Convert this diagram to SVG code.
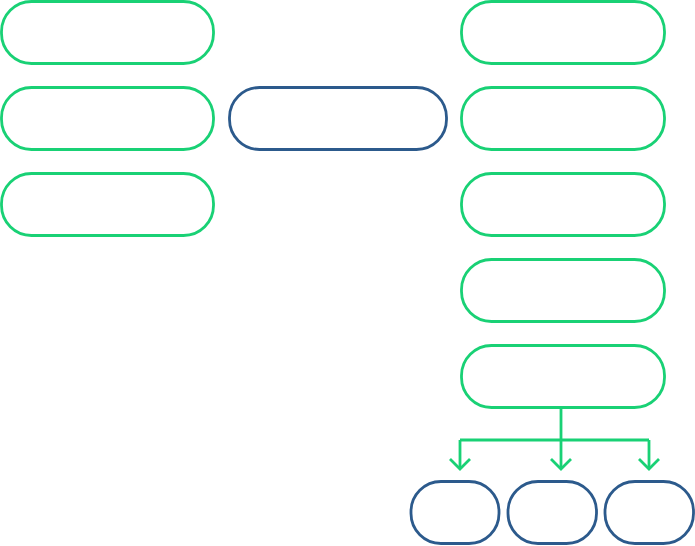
<svg xmlns="http://www.w3.org/2000/svg" width="695" height="546" viewBox="0 0 695 546">
<style>
.g{fill:#fff;stroke:#19d175;stroke-width:2.8}
.b{fill:#fff;stroke:#2c5a8c;stroke-width:2.8}
.c{fill:none;stroke:#19d175;stroke-width:2.8}
</style>
<defs>
<marker id="ah" viewBox="0 0 14 24" refX="12" refY="12" markerWidth="14" markerHeight="24" markerUnits="userSpaceOnUse" orient="auto">
<path d="M2,2 L12,12 L2,22" fill="none" stroke="#19d175" stroke-width="2.8"/>
</marker>
</defs>
<rect width="695" height="546" fill="#fff"/>
<g id="connectors">
<path class="c" d="M561,409 V440"/>
<path class="c" d="M460,440 H649"/>
<path class="c" d="M460,440 V469" marker-end="url(#ah)"/>
<path class="c" d="M561,440 V469" marker-end="url(#ah)"/>
<path class="c" d="M649,440 V469" marker-end="url(#ah)"/>
</g>
<g id="l1"><rect class="g" x="1.5" y="1.5" width="212" height="62" rx="30"/></g>
<g id="l2"><rect class="g" x="1.5" y="87.5" width="212" height="62" rx="30"/></g>
<g id="l3"><rect class="g" x="1.5" y="173.5" width="212" height="62" rx="30"/></g>
<g id="center"><rect class="b" x="229.5" y="87.5" width="217" height="62" rx="30"/></g>
<g id="r1"><rect class="g" x="461.5" y="1.5" width="203" height="62" rx="30"/></g>
<g id="r2"><rect class="g" x="461.5" y="87.5" width="203" height="62" rx="30"/></g>
<g id="r3"><rect class="g" x="461.5" y="173.5" width="203" height="62" rx="30"/></g>
<g id="r4"><rect class="g" x="461.5" y="259.5" width="203" height="62" rx="30"/></g>
<g id="r5"><rect class="g" x="461.5" y="345.5" width="203" height="62" rx="30"/></g>
<g id="b1"><rect class="b" x="411" y="481.5" width="88" height="62" rx="30"/></g>
<g id="b2"><rect class="b" x="508" y="481.5" width="88.5" height="62" rx="30"/></g>
<g id="b3"><rect class="b" x="605" y="481.5" width="88.5" height="62" rx="30"/></g>
</svg>
